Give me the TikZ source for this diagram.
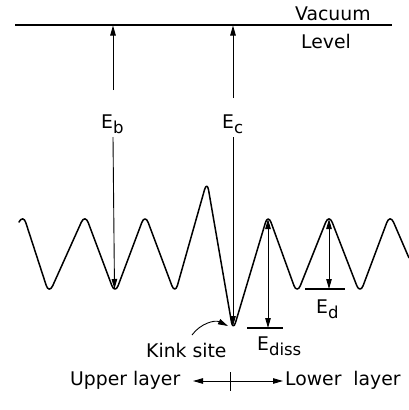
\documentclass[tikz,border=0pt]{standalone}
\usepackage{fontspec}
\setmainfont{DejaVu Sans}
\usetikzlibrary{arrows.meta}
\newcommand\lowsub[1]{\raisebox{-5.5pt}{\fontsize{16.5}{16.5}\selectfont #1}}
\tikzset{tip/.tip={Triangle[length=10pt,width=5.5pt]}}
\begin{document}
\begin{tikzpicture}[x=1pt,y=-1pt,
  lbl/.style={inner sep=0pt,anchor=base west,font=\fontsize{18.8}{20}\selectfont},
  curve/.style={line width=1.5pt,rounded corners=9pt,line join=round},
  arr/.style={line width=0.9pt,-tip},
  darr/.style={line width=0.9pt,tip-tip},
  lev/.style={line width=1.1pt}]
\useasboundingbox (0,0) rectangle (409,410);
% vacuum level
\coordinate (vL) at (15,25);
\coordinate (vR) at (392,25);
\draw[lev] (vL) -- (vR);
\node[lbl] (vac) at (295,20) {Vacuum};
\node[lbl] (lvl) at (301,48) {Level};
% potential curve
\draw[curve] (19,222) -- (23,214) -- (49,294) -- (85,214) -- (115,294) -- (145,214)
  -- (175,294) -- (207,181) -- (233,331) -- (268,214) -- (297,294) -- (329,214)
  -- (360,294) -- (390,214) -- (409,258);
% E_b
\node[lbl] (Eb) at (101,128) {E\lowsub{b}};
\coordinate (ebT) at (113,25.5);
\coordinate (ebA) at (113,90);
\coordinate (ebB) at (113,137);
\coordinate (ebV) at (114.5,289);
\draw[arr] (ebA) -- (ebT);
\draw[arr] (ebB) -- (ebV);
% E_c
\node[lbl] (Ec) at (222,128) {E\lowsub{c}};
\coordinate (ecT) at (233,25.5);
\coordinate (ecA) at (233,98);
\coordinate (ecB) at (233,137);
\coordinate (ecV) at (233,326);
\draw[arr] (ecA) -- (ecT);
\draw[arr] (ecB) -- (ecV);
% E_diss
\coordinate (edsT) at (268,219);
\coordinate (edsB) at (268,328);
\coordinate (edsL) at (247,328);
\coordinate (edsR) at (283,328);
\draw[darr] (edsT) -- (edsB);
\draw[lev] (edsL) -- (edsR);
\node[lbl] (Ediss) at (257,350) {E\lowsub{diss}};
% E_d
\coordinate (edT) at (329,219);
\coordinate (edB) at (329,289);
\coordinate (edL) at (305,289);
\coordinate (edR) at (345,289);
\draw[darr] (edT) -- (edB);
\draw[lev] (edL) -- (edR);
\node[lbl] (Ed) at (316,313) {E\lowsub{d}};
% kink site
\node[lbl] (kink) at (146,357) {Kink site};
\coordinate (ks1) at (192,335);
\coordinate (ks2) at (228,326);
\draw[arr] (ks1) to[bend left=40] (ks2);
% layers
\node[lbl] (up) at (70,385) {Upper layer};
\node[lbl] (low) at (285,385) {Lower\hspace{6pt} layer};
\coordinate (la) at (193,381);
\coordinate (ra) at (283,381);
\coordinate (tT) at (230,372);
\coordinate (tB) at (230,391);
\draw[darr] (la) -- (ra);
\draw[line width=0.9pt] (tT) -- (tB);
\end{tikzpicture}
\end{document}
